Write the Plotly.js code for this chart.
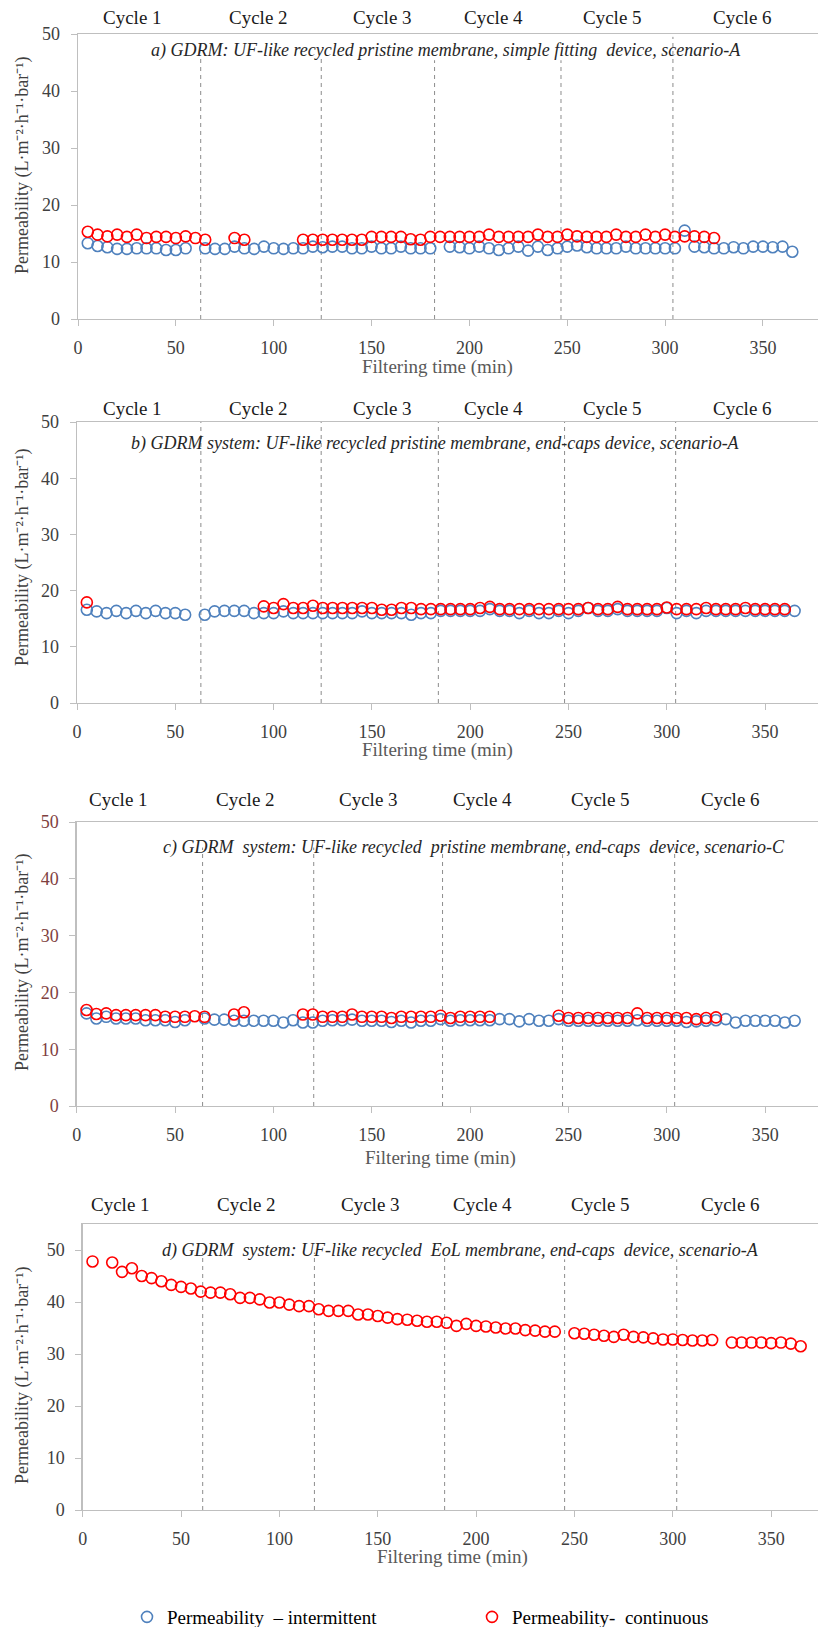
<!DOCTYPE html>
<html>
<head>
<meta charset="utf-8">
<script src="https://cdn.plot.ly/plotly-3.0.1.min.js"></script>
<style>html,body{margin:0;padding:0;background:#fff;}#chart{width:818px;height:1627px;}</style>
</head>
<body>
<div id="chart"></div>
<script>
// ---------------- DATA ----------------
var cycleLabels = ["Cycle 1", "Cycle 2", "Cycle 3", "Cycle 4", "Cycle 5", "Cycle 6"];
var xTickVals = [0, 50, 100, 150, 200, 250, 300, 350];
var yTickVals = [0, 10, 20, 30, 40, 50];
var seriesNames = ["Permeability\u00a0\u00a0\u2013 intermittent", "Permeability-\u00a0\u00a0continuous"];
var xTitle = "Filtering time (min)";
var yTitle = "Permeability (L\u00b7m\u207b\u00b2\u00b7h\u207b\u00b9\u00b7bar\u207b\u00b9)";
var panelTitles = [
  "a) GDRM: UF-like recycled pristine membrane, simple fitting\u00a0\u00a0device, scenario-A",
  "b) GDRM system: UF-like recycled pristine membrane, end-caps device, scenario-A",
  "c) GDRM\u00a0\u00a0system: UF-like recycled\u00a0\u00a0pristine membrane, end-caps\u00a0\u00a0device, scenario-C",
  "d) GDRM\u00a0\u00a0system: UF-like recycled\u00a0\u00a0EoL membrane, end-caps\u00a0\u00a0device, scenario-A"
];

// cycle boundaries (min) per panel
var cycleBoundsA = [62.7, 124.3, 182.2, 246.8, 304.0];
var cycleBoundsB = [63.0, 124.2, 183.8, 248.0, 304.5];
var cycleBoundsC = [64.0, 120.5, 186.0, 247.0, 304.0];
var cycleBoundsD = [61.0, 117.8, 184.0, 245.0, 302.0];

// Panel a
var aBlueT = [5,10,15,20,25,30,35,40,45,50,55,
  65,70,75,80,85,90,95,100,105,110,115,120,125,130,135,140,145,150,155,160,165,170,175,180,
  190,195,200,205,210,215,220,225,230,235,240,245,250,255,260,265,270,275,280,285,290,295,300,305,310,315,320,325,330,335,340,345,350,355,360,365];
var aBlueP = [13.3,12.8,12.6,12.3,12.3,12.4,12.4,12.4,12.1,12.1,12.4,
  12.4,12.3,12.3,12.7,12.4,12.3,12.7,12.4,12.3,12.4,12.4,12.7,12.6,12.7,12.7,12.4,12.4,12.7,12.4,12.4,12.7,12.4,12.4,12.4,
  12.7,12.6,12.4,12.7,12.4,12.1,12.4,12.7,12.0,12.7,12.1,12.4,12.7,12.9,12.6,12.4,12.4,12.4,12.7,12.4,12.4,12.4,12.4,12.4,15.5,12.7,12.6,12.4,12.4,12.6,12.4,12.7,12.7,12.6,12.7,11.8];
var aRedT = [5,10,15,20,25,30,35,40,45,50,55,60,65,
  80,85,
  115,120,125,130,135,140,145,150,155,160,165,170,175,180,185,190,195,200,205,210,215,220,225,230,235,240,245,250,255,260,265,270,275,280,285,290,295,300,305,310,315,320,325];
var aRedP = [15.3,14.8,14.5,14.8,14.4,14.8,14.2,14.4,14.4,14.2,14.5,14.2,13.9,
  14.2,13.9,
  13.9,13.9,13.9,13.9,13.9,13.9,13.9,14.4,14.4,14.4,14.4,14.0,13.9,14.4,14.4,14.4,14.4,14.4,14.4,14.8,14.4,14.4,14.4,14.4,14.8,14.4,14.4,14.8,14.5,14.4,14.4,14.4,14.8,14.4,14.4,14.8,14.4,14.8,14.4,14.5,14.5,14.4,14.2];

// Panel b
var bBlueT = [5,10,15,20,25,30,35,40,45,50,55,
  65,70,75,80,85,90,95,100,105,110,115,120,125,130,135,140,145,150,155,160,165,170,175,180,185,190,195,200,205,210,215,220,225,230,235,240,245,250,255,260,265,270,275,280,285,290,295,300,305,310,315,320,325,330,335,340,345,350,355,360,365];
var bBlueP = [16.6,16.3,16.0,16.4,16.0,16.4,16.0,16.4,16.0,16.0,15.7,
  15.7,16.3,16.4,16.4,16.4,16.0,16.0,16.0,16.3,16.0,16.0,16.0,16.0,16.0,16.0,16.0,16.3,16.0,16.0,16.0,16.0,15.7,16.0,16.0,16.4,16.4,16.4,16.4,16.4,16.7,16.4,16.4,16.0,16.4,16.0,16.0,16.4,16.0,16.4,16.9,16.4,16.4,16.7,16.4,16.4,16.4,16.4,16.9,16.0,16.4,16.0,16.4,16.4,16.4,16.4,16.4,16.4,16.4,16.4,16.4,16.4];
var bRedT = [5,
  95,100,105,110,115,120,125,130,135,140,145,150,155,160,165,170,175,180,185,190,195,200,205,210,215,220,225,230,235,240,245,250,255,260,265,270,275,280,285,290,295,300,305,310,315,320,325,330,335,340,345,350,355,360];
var bRedP = [17.9,
  17.2,16.9,17.6,16.9,16.9,17.3,16.9,16.9,16.9,16.9,16.9,16.9,16.6,16.6,16.9,16.9,16.7,16.7,16.7,16.7,16.7,16.7,16.9,17.1,16.7,16.7,16.7,16.7,16.7,16.7,16.7,16.7,16.7,16.9,16.7,16.7,17.1,16.7,16.7,16.7,16.7,17.0,16.7,16.7,16.7,16.9,16.7,16.7,16.7,16.9,16.7,16.7,16.7,16.7];

// Panel c
var cBlueT = [5,10,15,20,25,30,35,40,45,50,55,
  65,70,75,80,85,90,95,100,105,110,115,120,125,130,135,140,145,150,155,160,165,170,175,180,185,190,195,200,205,210,215,220,225,230,235,240,245,250,255,260,265,270,275,280,285,290,295,300,305,310,315,320,325,330,335,340,345,350,355,360,365];
var cBlueP = [16.3,15.4,15.7,15.4,15.4,15.4,15.1,15.1,15.1,14.8,15.1,
  15.4,15.2,15.2,15.0,15.0,15.0,15.0,15.0,14.7,15.1,14.7,14.7,15.0,15.1,15.1,15.2,15.0,15.0,15.0,14.8,15.0,14.7,15.0,15.0,15.3,15.0,15.1,15.1,15.1,15.1,15.3,15.3,14.9,15.3,15.0,15.0,15.3,15.0,15.0,15.0,15.0,15.0,15.0,15.0,15.1,15.0,15.0,15.0,15.0,14.8,14.9,15.0,15.1,15.3,14.7,15.0,15.0,15.0,15.0,14.7,15.0];
var cRedT = [5,10,15,20,25,30,35,40,45,50,55,60,65,
  80,85,
  115,120,125,130,135,140,145,150,155,160,165,170,175,180,185,190,195,200,205,210,
  245,250,255,260,265,270,275,280,285,290,295,300,305,310,315,320,325];
var cRedP = [16.9,16.2,16.3,16.0,16.0,16.0,16.0,16.0,15.7,15.7,15.7,15.8,15.7,
  16.1,16.5,
  16.1,16.1,15.7,15.7,15.7,16.1,15.7,15.7,15.7,15.5,15.7,15.7,15.7,15.7,15.9,15.5,15.7,15.7,15.7,15.7,
  15.9,15.5,15.5,15.5,15.5,15.5,15.5,15.5,16.3,15.5,15.5,15.5,15.5,15.5,15.3,15.5,15.6];

// Panel d
var dRedT = [5,15,20,25,30,35,40,45,50,55,60,65,70,75,80,85,90,95,100,105,110,115,120,125,130,135,140,145,150,155,160,165,170,175,180,185,190,195,200,205,210,215,220,225,230,235,240,
  250,255,260,265,270,275,280,285,290,295,300,305,310,315,320,
  330,335,340,345,350,355,360,365];
var dRedP = [47.8,47.6,45.8,46.5,45.0,44.6,44.0,43.3,42.9,42.6,42.0,41.8,41.8,41.5,40.8,40.8,40.5,39.9,39.9,39.5,39.2,39.2,38.6,38.3,38.3,38.3,37.6,37.6,37.3,37.0,36.7,36.6,36.4,36.2,36.2,36.0,35.4,35.8,35.4,35.3,35.1,34.9,34.9,34.6,34.5,34.3,34.3,
  34.0,33.9,33.7,33.5,33.3,33.7,33.3,33.2,33.0,32.8,32.8,32.7,32.6,32.6,32.7,
  32.2,32.2,32.2,32.2,32.1,32.2,32.0,31.5];

// ---------------- LAYOUT ----------------
var W = 818, H = 1627;
function fx(p) { return p / W; }
function fy(p) { return 1 - p / H; }

var FONT = "Liberation Serif, Times New Roman, serif";
var BLUE = "#4f81bd", RED = "#ff0000";
var AXC = "#bfbfbf";

// panel geometry in pixels
var panels = [
  {left: 78,   top: 34,   bottom: 319,  pxPerMin: 1.957, ymax: 50, tickColor: "#404040",
   bounds: cycleBoundsA, dashTop: [46, 45.7, 45.4, 45.4, 49.5],
   cycleY: 17, cycleX: [132, 258, 382, 493, 612, 742],
   capX: 446, capY: 50, ytY: 165, xtX: 437, xtY: 367},
  {left: 77,   top: 422,  bottom: 703,  pxPerMin: 1.966, ymax: 50, tickColor: "#404040",
   bounds: cycleBoundsB, dashTop: [50, 50, 50, 50, 50],
   cycleY: 409, cycleX: [132, 258, 382, 493, 612, 742],
   capX: 435, capY: 443, ytY: 557, xtX: 437, xtY: 750},
  {left: 76.7, top: 822,  bottom: 1106, pxPerMin: 1.967, ymax: 50, tickColor: "#7f3f3f",
   bounds: cycleBoundsC, dashTop: [45.5, 45.5, 45.5, 45.5, 45.5],
   cycleY: 800, cycleX: [118, 245, 368, 482, 600, 730],
   capX: 474, capY: 847, ytY: 962, xtX: 440, xtY: 1158},
  {left: 82.7, top: 1224, bottom: 1510, pxPerMin: 1.967, ymax: 55, tickColor: "#404040",
   bounds: cycleBoundsD, dashTop: [49.5, 49.5, 48.5, 48.2, 48.2],
   cycleY: 1204, cycleX: [120, 247, 370, 482, 600, 730],
   capX: 460, capY: 1250, ytY: 1375, xtX: 452, xtY: 1557}
];

var layout = {
  width: W, height: H,
  margin: {l: 0, r: 0, t: 0, b: 0, autoexpand: false},
  paper_bgcolor: "#ffffff",
  plot_bgcolor: "#ffffff",
  font: {family: FONT, size: 18, color: "#262626"},
  showlegend: true,
  legend: {
    orientation: "h", x: fx(127), xanchor: "left", y: fy(1617), yanchor: "middle",
    font: {family: FONT, size: 19, color: "#000000"},
    entrywidth: 300, entrywidthmode: "pixels", bgcolor: "rgba(0,0,0,0)"
  },
  annotations: [],
  shapes: []
};

panels.forEach(function (p, i) {
  var n = i === 0 ? "" : String(i + 1);
  var xa = "xaxis" + n, ya = "yaxis" + n;
  var xr = "x" + n, yr = "y" + n;
  layout[xa] = {
    domain: [fx(p.left), 1],
    range: [0, (W - p.left) / p.pxPerMin],
    anchor: yr,
    tickvals: xTickVals, ticks: "outside", ticklen: 6, tickcolor: AXC, tickwidth: 1,
    ticklabelstandoff: 6,
    showline: true, linecolor: AXC, linewidth: 1.3, mirror: true,
    showgrid: false, zeroline: false,
    tickfont: {family: FONT, size: 18, color: "#404040"},
    fixedrange: true
  };
  layout[ya] = {
    domain: [fy(p.bottom), fy(p.top)],
    range: [0, p.ymax],
    anchor: xr,
    tickvals: yTickVals, ticks: "outside", ticklen: 6, tickcolor: AXC, tickwidth: 1,
    ticklabelstandoff: 7,
    showline: true, linecolor: AXC, linewidth: 1.3,
    showgrid: false, zeroline: false,
    tickfont: {family: FONT, size: 18, color: p.tickColor},
    fixedrange: true
  };
  // cycle boundary dashed lines
  p.bounds.forEach(function (b, k) {
    layout.shapes.push({
      type: "line", xref: xr, yref: yr, x0: b, x1: b, y0: 0, y1: p.dashTop[k],
      line: {color: "#8c8c8c", width: 1, dash: "4px,4px"}, layer: "below"
    });
  });
  // cycle labels
  cycleLabels.forEach(function (c, k) {
    layout.annotations.push({
      xref: "paper", yref: "paper", x: fx(p.cycleX[k]), y: fy(p.cycleY),
      xanchor: "center", yanchor: "middle", showarrow: false, text: c,
      font: {family: FONT, size: 19, color: "#1a1a1a"}
    });
  });
  // panel caption
  layout.annotations.push({
    xref: "paper", yref: "paper", x: fx(p.capX), y: fy(p.capY),
    xanchor: "center", yanchor: "middle", showarrow: false,
    text: "<i>" + panelTitles[i] + "</i>",
    font: {family: FONT, size: 18, color: "#262626"}
  });
  // y title
  layout.annotations.push({
    xref: "paper", yref: "paper", x: fx(22), y: fy(p.ytY),
    xanchor: "center", yanchor: "middle", showarrow: false, textangle: -90,
    text: yTitle, font: {family: FONT, size: 18, color: "#404040"}
  });
  // x title
  layout.annotations.push({
    xref: "paper", yref: "paper", x: fx(p.xtX), y: fy(p.xtY),
    xanchor: "center", yanchor: "middle", showarrow: false,
    text: xTitle, font: {family: FONT, size: 19, color: "#595959"}
  });
});

function markerOf(color) {
  return {symbol: "circle-open", size: 11, color: color, line: {width: 1.6, color: color}};
}

var traces = [
  {x: aBlueT, y: aBlueP, xaxis: "x", yaxis: "y", mode: "markers", name: seriesNames[0], marker: markerOf(BLUE), showlegend: true, legendrank: 1},
  {x: aRedT, y: aRedP, xaxis: "x", yaxis: "y", mode: "markers", name: seriesNames[1], marker: markerOf(RED), showlegend: true, legendrank: 2},
  {x: bBlueT, y: bBlueP, xaxis: "x2", yaxis: "y2", mode: "markers", name: seriesNames[0], marker: markerOf(BLUE), showlegend: false},
  {x: bRedT, y: bRedP, xaxis: "x2", yaxis: "y2", mode: "markers", name: seriesNames[1], marker: markerOf(RED), showlegend: false},
  {x: cBlueT, y: cBlueP, xaxis: "x3", yaxis: "y3", mode: "markers", name: seriesNames[0], marker: markerOf(BLUE), showlegend: false},
  {x: cRedT, y: cRedP, xaxis: "x3", yaxis: "y3", mode: "markers", name: seriesNames[1], marker: markerOf(RED), showlegend: false},
  {x: dRedT, y: dRedP, xaxis: "x4", yaxis: "y4", mode: "markers", name: seriesNames[1], marker: markerOf(RED), showlegend: false}
];

Plotly.newPlot("chart", traces, layout, {displayModeBar: false, staticPlot: true});
</script>
</body>
</html>
